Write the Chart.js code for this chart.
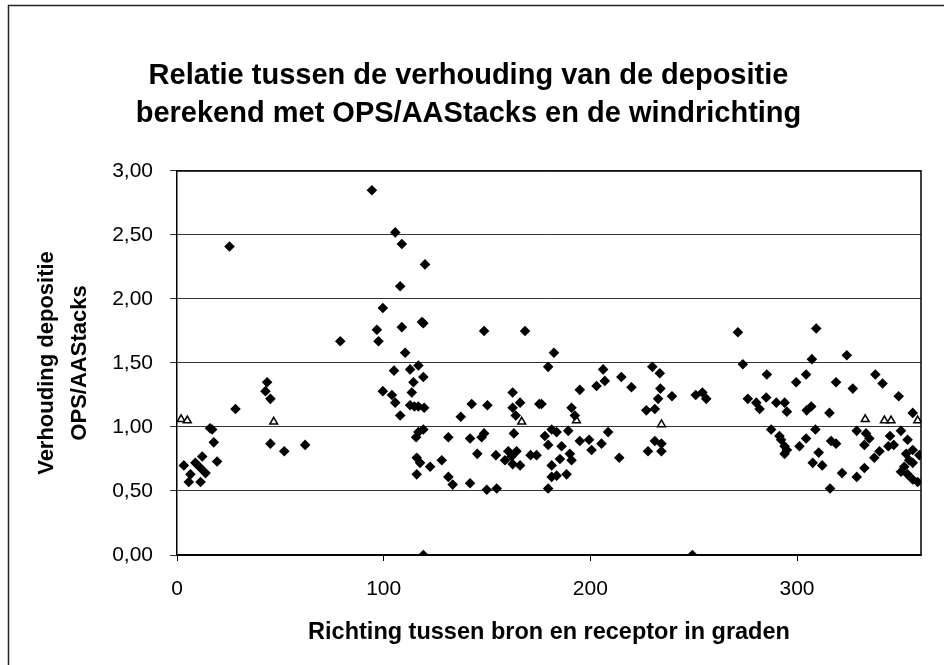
<!DOCTYPE html>
<html>
<head>
<meta charset="utf-8">
<script src="https://cdn.jsdelivr.net/npm/chart.js@4"></script>
<style>
html,body{margin:0;padding:0;background:#fff;}
#wrap{width:944px;height:665px;position:relative;}
</style>
</head>
<body>
<div id="wrap"><canvas id="c" width="944" height="665"></canvas></div>
<script>
const chartTitle = ["Relatie tussen de verhouding van de depositie", "berekend met OPS/AAStacks en de windrichting"];
const xAxisTitle = "Richting tussen bron en receptor in graden";
const yAxisTitle = ["Verhouding depositie", "OPS/AAStacks"];
const yTickValues = [0, 0.5, 1, 1.5, 2, 2.5, 3];
const xTickValues = [0, 100, 200, 300];

// Richting (graden) and verhouding for the diamond series
const richting = [
  25.4, 79, 28.3, 43.6, 42.8, 45.2, 17, 16, 17.8, 19.4, 12.2, 8.9, 3.3, 6.5, 5.7, 11.4, 13.8, 11.4, 45.2, 51.9, 62,
  94.3, 105.6, 108.8, 120, 108, 99.6, 96.7, 97.5, 108.8, 119.2, 118.5, 148.6, 168.4, 110.4, 105, 112.8, 116.8, 119.2, 114.4,
  113.6, 99.6, 104, 105.6, 108, 112.8, 116.8, 119.6, 114.9, 142.6, 150.2, 137.3, 162.4, 166, 162.4, 163.9, 175.3, 116.8,
  115.7, 119.2, 131.3, 141.8, 148.6, 147.4, 163, 145.3, 154.3, 160.3, 164.3, 161.9, 158.7, 162.4, 166, 171.1, 174, 116,
  117.6, 122.5, 128.1, 116, 131.3, 133.4, 141.8, 149.9, 154.7, 119.2,
  182.4, 179.6, 206.2, 207, 203, 215, 219.9, 194.9, 230, 233.6, 233.9, 232.8, 239.5, 227.1, 231.2, 251, 254.2, 256.1,
  176.4, 190.9, 192.5, 178, 181.3, 183.7, 189.3, 179.6, 186.1, 190.1, 185.3, 190.9, 181.3, 181.3, 183.7, 188.5, 179.6,
  194.9, 199.4, 200.6, 205.4, 208.6, 214, 227.9, 231.2, 234.4, 234.4, 249.4,
  271.4, 309.3, 324.1, 273.8, 307.2, 285.4, 299.6, 304.4, 318.9, 327, 337.9, 341.4, 349.2, 276.2, 280.3, 281.9, 285.1,
  290, 294, 295.1, 306.9, 304.7, 315.7, 356, 287.5, 291.5, 292.3, 294, 295.1, 294, 301.2, 304.4, 308.9, 316.5, 318.9,
  310.5, 307.6, 312.2, 321.8, 316, 328.9, 332.6, 337.4, 339.9, 328.9, 333.4, 335, 332.6, 345, 346.8, 344.2, 350.3,
  353.5, 352.8, 356, 359.2, 354.3, 351.9, 350.3, 353.5, 356, 358.4, 356
];
const verhouding = [
  2.41, 1.67, 1.14, 1.35, 1.28, 1.22, 0.98, 0.99, 0.88, 0.73, 0.77, 0.72, 0.70, 0.63, 0.57, 0.68, 0.64, 0.57, 0.87, 0.81, 0.86,
  2.85, 2.52, 2.43, 2.27, 2.10, 1.93, 1.76, 1.67, 1.78, 1.81, 1.82, 1.75, 1.75, 1.58, 1.44, 1.45, 1.48, 1.39, 1.35,
  1.27, 1.28, 1.25, 1.19, 1.09, 1.17, 1.16, 1.15, 1.16, 1.18, 1.17, 1.08, 1.27, 1.19, 1.15, 1.09, 1.18, 0.96,
  0.92, 0.98, 0.92, 0.91, 0.95, 0.92, 0.95, 0.79, 0.78, 0.81, 0.81, 0.77, 0.74, 0.71, 0.70, 0.78, 0.78, 0.76,
  0.72, 0.69, 0.74, 0.63, 0.61, 0.55, 0.56, 0.51, 0.52, 0.00,
  1.58, 1.47, 1.45, 1.36, 1.32, 1.39, 1.31, 1.29, 1.47, 1.42, 1.30, 1.22, 1.24, 1.13, 1.14, 1.25, 1.27, 1.22,
  1.18, 1.15, 1.09, 0.93, 0.98, 0.96, 0.97, 0.86, 0.85, 0.79, 0.75, 0.74, 0.70, 0.61, 0.62, 0.63, 0.52,
  0.89, 0.90, 0.82, 0.87, 0.96, 0.76, 0.81, 0.89, 0.87, 0.81, 0.00,
  1.74, 1.77, 1.56, 1.49, 1.53, 1.41, 1.35, 1.41, 1.35, 1.30, 1.41, 1.34, 1.24, 1.22, 1.19, 1.14, 1.23,
  1.19, 1.19, 1.12, 1.16, 1.13, 1.11, 1.11, 0.98, 0.93, 0.90, 0.85, 0.82, 0.79, 0.85, 0.91, 0.98, 0.89, 0.87,
  0.80, 0.72, 0.70, 0.64, 0.52, 0.61, 0.68, 0.76, 0.81, 0.97, 0.95, 0.91, 0.86, 0.93, 0.86, 0.85, 0.97,
  0.90, 0.79, 0.82, 0.78, 0.74, 0.69, 0.65, 0.63, 0.59, 0.57, 0.72
];
// second (triangle) series
const richtingTri = [2, 5, 46.8, 166.8, 193.3, 234.4, 333, 342.3, 345.5, 358.4];
const verhoudingTri = [1.06, 1.05, 1.04, 1.04, 1.05, 1.02, 1.06, 1.05, 1.05, 1.05];

const diamondPts = richting.map((x, i) => ({x: x, y: verhouding[i]}));
const trianglePts = richtingTri.map((x, i) => ({x: x, y: verhoudingTri[i]}));

const FONT = "'Liberation Sans', Arial, sans-serif";

const framePlugin = {
  id: 'frame',
  beforeDraw(chart) {
    const ctx = chart.ctx;
    ctx.save();
    ctx.fillStyle = '#fff';
    ctx.fillRect(0, 0, chart.width, chart.height);
    ctx.strokeStyle = '#222';
    ctx.lineWidth = 1.5;
    ctx.beginPath();
    ctx.moveTo(8.5, 665);
    ctx.lineTo(8.5, 5.5);
    ctx.lineTo(944, 5.5);
    ctx.stroke();
    ctx.restore();
  },
  beforeDatasetsDraw(chart) {
    const a = chart.chartArea;
    const ctx = chart.ctx;
    ctx.save();
    ctx.strokeStyle = '#000';
    ctx.lineWidth = 1.5;
    ctx.beginPath();
    ctx.moveTo(a.left, a.top);
    ctx.lineTo(a.right, a.top);
    ctx.lineTo(a.right, a.bottom);
    ctx.lineTo(a.left, a.bottom);
    ctx.stroke();
    ctx.restore();
  }
};

new Chart(document.getElementById('c'), {
  type: 'scatter',
  data: {
    datasets: [
      {
        label: 'verhouding',
        data: diamondPts,
        pointStyle: 'rectRot',
        pointRadius: 5.3,
        pointHoverRadius: 5.3,
        backgroundColor: '#000',
        borderColor: '#000',
        borderWidth: 0
      },
      {
        label: 'driehoek',
        data: trianglePts,
        pointStyle: 'triangle',
        pointRadius: 4.5,
        pointHoverRadius: 4.5,
        backgroundColor: '#fff',
        borderColor: '#000',
        borderWidth: 1.5
      }
    ]
  },
  options: {
    responsive: false,
    animation: false,
    devicePixelRatio: 1,
    layout: { padding: { left: 16, right: 23, top: 0, bottom: 0 } },
    plugins: {
      legend: { display: false },
      tooltip: { enabled: false },
      title: {
        display: true,
        text: chartTitle,
        color: '#000',
        font: { family: FONT, size: 29, weight: 'bold', lineHeight: 1.31 },
        padding: { top: 57, bottom: 38 }
      }
    },
    scales: {
      x: {
        type: 'linear',
        min: 0,
        max: 360,
        afterFit(s) { s.height = 110; },
        afterBuildTicks(s) { s.ticks = xTickValues.map(v => ({value: v})); },
        ticks: {
          color: '#000',
          font: { family: FONT, size: 21 },
          padding: 16,
          maxRotation: 0,
          callback: v => String(v)
        },
        grid: { drawOnChartArea: false, drawTicks: true, tickLength: 6, color: '#000', lineWidth: 1 },
        border: { display: true, color: '#000', width: 1.5 },
        title: {
          display: true,
          text: xAxisTitle,
          color: '#000',
          font: { family: FONT, size: 23.5, weight: 'bold' },
          padding: { top: 0, bottom: 18 }
        }
      },
      y: {
        type: 'linear',
        min: 0,
        max: 3,
        afterFit(s) { s.width = 161; },
        afterBuildTicks(s) { s.ticks = yTickValues.map(v => ({value: v})); },
        ticks: {
          color: '#000',
          font: { family: FONT, size: 21 },
          padding: 17,
          callback: v => Number(v).toFixed(2).replace('.', ',')
        },
        grid: { drawOnChartArea: true, drawTicks: true, tickLength: 7, color: '#333', lineWidth: 1 },
        border: { display: true, color: '#000', width: 1.5 },
        title: {
          display: true,
          text: yAxisTitle,
          color: '#000',
          font: { family: FONT, size: 22, weight: 'bold', lineHeight: 1.47 },
          padding: { top: 15, bottom: 0 }
        }
      }
    }
  },
  plugins: [framePlugin]
});
</script>
</body>
</html>
